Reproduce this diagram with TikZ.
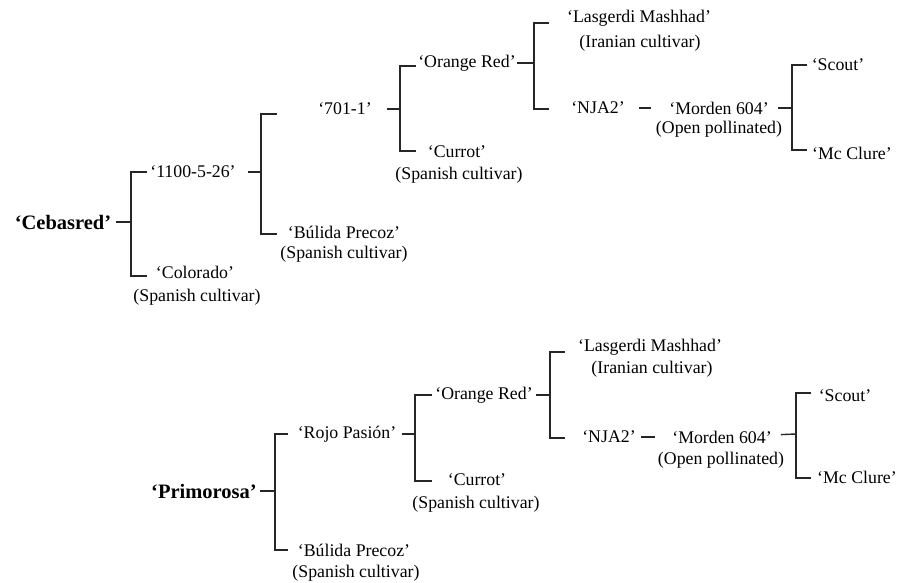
\documentclass[tikz,border=0pt]{standalone}
\usepackage{fontspec}
\setmainfont{Liberation Serif}
\tikzset{
	cv/.style={font=\fontsize{17.8}{20}\selectfont, inner sep=3pt},
	root/.style={font=\fontsize{20.5}{24}\selectfont\bfseries, inner sep=3pt},
	br/.style={line width=1.4pt, black!85}
}
\begin{document}
\begin{tikzpicture}[x=1pt, y=-1pt]
			\useasboundingbox (0,0) rectangle (898,583);
			% Cebasred
			\node[root] (ceb) at (63,222) {‘Cebasred’};
			\node[cv] (a1100) at (193,172) {‘1100-5-26’};
			\node[cv] (col) at (195,272) {‘Colorado’};
			\node[cv] (colS) at (197,297) {(Spanish cultivar)};
			\node[cv] (a701) at (345,109) {‘701-1’};
			\node[cv] (bul) at (344,232) {‘Búlida Precoz’};
			\node[cv] (bulS) at (344,254) {(Spanish cultivar)};
			\node[cv] (ora) at (467,63) {‘Orange Red’};
			\node[cv] (cur) at (457,152) {‘Currot’};
			\node[cv] (curS) at (459,175) {(Spanish cultivar)};
			\node[cv] (las) at (639,18) {‘Lasgerdi Mashhad’};
			\node[cv] (lasS) at (640,43) {(Iranian cultivar)};
			\node[cv] (nja) at (598,108) {‘NJA2’};
			\node[cv] (mor) at (719,108) {‘Morden 604’};
			\node[cv] (morS) at (719,129) {(Open pollinated)};
			\node[cv] (sco) at (838,65) {‘Scout’};
			\node[cv] (mcc) at (852,153) {‘Mc Clure’};
			
			% Cebasred brackets
			\coordinate (k1) at (131,222);
			\coordinate (t1) at (147,172);
			\coordinate (b1) at (147,276);
			\draw[br, shorten <=2pt] (ceb) -- (k1);
			\draw[br] (t1) -| (k1) |- (b1);
			
			\coordinate (k2) at (261,172);
			\coordinate (t2) at (277,114);
			\coordinate (b2) at (277,234);
			\draw[br, shorten <=9pt] (a1100) -- (k2);
			\draw[br] (t2) -| (k2) |- (b2);
			
			\coordinate (k3) at (400,109);
			\coordinate (t3) at (416,66);
			\coordinate (b3) at (416,151);
			\draw[br, shorten <=12pt] (a701) -- (k3);
			\draw[br] (t3) -| (k3) |- (b3);
			
			\coordinate (k4) at (534,63);
			\coordinate (t4) at (549,23);
			\coordinate (b4) at (549,109);
			\draw[br, shorten <=-2pt] (ora) -- (k4);
			\draw[br] (t4) -| (k4) |- (b4);
			
			\draw[br, shorten <=11pt, shorten >=15pt] (nja) -- (mor);
			
			\coordinate (k6) at (792,108);
			\coordinate (t6) at (807,65);
			\coordinate (b6) at (807,150);
			\draw[br, shorten <=6pt] (mor) -- (k6);
			\draw[br] (t6) -| (k6) |- (b6);
			
			% Primorosa
			\node[root] (pri) at (204,491) {‘Primorosa’};
			\node[cv] (roj) at (347,434) {‘Rojo Pasión’};
			\node[cv] (bul2) at (354,550) {‘Búlida Precoz’};
			\node[cv] (bul2S) at (356,573) {(Spanish cultivar)};
			\node[cv] (ora2) at (484,395) {‘Orange Red’};
			\node[cv] (cur2) at (477,480) {‘Currot’};
			\node[cv] (cur2S) at (476,504) {(Spanish cultivar)};
			\node[cv] (las2) at (650,347) {‘Lasgerdi Mashhad’};
			\node[cv] (las2S) at (652,369) {(Iranian cultivar)};
			\node[cv] (nja2) at (609,437) {‘NJA2’};
			\node[cv] (mor2) at (722,437) {‘Morden 604’};
			\node[cv] (mor2S) at (721,460) {(Open pollinated)};
			\node[cv] (sco2) at (845,396) {‘Scout’};
			\node[cv] (mcc2) at (857,477) {‘Mc Clure’};
			
			% Primorosa brackets
			\coordinate (k7) at (275,491);
			\coordinate (t7) at (288,434);
			\coordinate (b7) at (288,550);
			\draw[br] (pri) -- (k7);
			\draw[br] (t7) -| (k7) |- (b7);
			
			\coordinate (k8) at (415,434);
			\coordinate (t8) at (432,395);
			\coordinate (b8) at (432,481);
			\draw[br, shorten <=3pt] (roj) -- (k8);
			\draw[br] (t8) -| (k8) |- (b8);
			
			\coordinate (k9) at (550,395);
			\coordinate (t9) at (565,352);
			\coordinate (b9) at (565,438);
			\draw[br] (ora2) -- (k9);
			\draw[br] (t9) -| (k9) |- (b9);
			
			\draw[br, shorten <=2pt, shorten >=14pt] (nja2) -- (mor2);
			
			\coordinate (k11) at (796,434);
			\coordinate (t11) at (811,393);
			\coordinate (b11) at (811,478);
			\draw[br, shorten <=6pt] (mor2) -- (k11);
			\draw[br] (t11) -| (k11) |- (b11);
			
\end{tikzpicture}
\end{document}
